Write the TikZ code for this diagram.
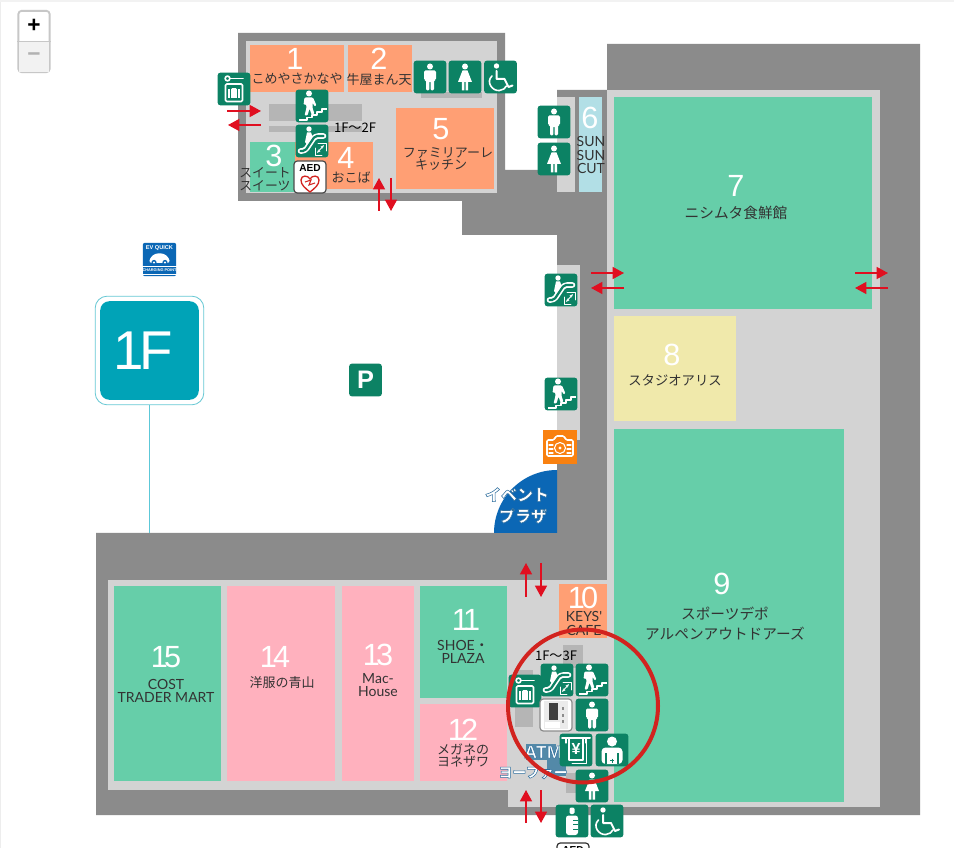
\documentclass[tikz,border=0pt]{standalone}
\usepackage{fontspec}
\usepackage{xcolor}
\usetikzlibrary{arrows.meta,shapes.geometric}
\newfontfamily\jpf{Noto Sans CJK JP}
\newfontfamily\numf{Lato}
\newfontfamily\sanf{Liberation Sans}
\newfontfamily\digf[LetterSpace=-12]{Liberation Sans}
\newfontfamily\onef[LetterSpace=-7]{Liberation Sans}
\definecolor{dkgrey}{HTML}{8B8B8B}
\definecolor{ltgrey}{HTML}{D3D3D3}
\definecolor{mdgrey}{HTML}{B5B5B5}
\definecolor{shopgreen}{HTML}{66CEA9}
\definecolor{shoporange}{HTML}{FF9F74}
\definecolor{shoppink}{HTML}{FFB1BE}
\definecolor{shopyellow}{HTML}{F0E9AB}
\definecolor{shopblue}{HTML}{B2DFE6}
\definecolor{icongreen}{HTML}{0C8264}
\definecolor{teal1f}{HTML}{00A3B7}
\definecolor{tealline}{HTML}{5CC8D8}
\definecolor{redarr}{HTML}{E00F20}
\definecolor{redring}{HTML}{D2231F}
\definecolor{plazablue}{HTML}{0B67B5}
\definecolor{atmblue}{HTML}{5389A8}
\definecolor{labelcol}{HTML}{333333}
\definecolor{camorange}{HTML}{F98110}
\AtBeginDocument{\lineskiplimit=-20pt\relax}
\newcommand\myoutl[1]{\special{pdf:code q 2 Tr 0.4 w 0.18 0.43 0.62 RG}#1\special{pdf:code Q}}
\tikzset{
  x=0.75pt,y=-0.75pt,
  shopnum/.style={font=\digf\fontsize{23}{23}\selectfont,text=white,inner sep=0pt},
  labjp/.style={font=\jpf\fontsize{9.75}{9}\selectfont,text=labelcol,inner sep=0pt,align=center},
  labjpl/.style={font=\jpf\fontsize{11}{15}\selectfont,text=labelcol,inner sep=0pt,align=center},
  lablat/.style={font=\numf\fontsize{10.5}{9.8}\selectfont,text=labelcol,inner sep=0pt,align=center},
  floorlab/.style={font=\jpf\fontsize{9.8}{10}\selectfont,text=black,inner sep=0pt},
  outlab/.style={font=\jpf\bfseries\fontsize{12}{15}\selectfont,text=white,inner sep=0pt,align=center},
  icon/.style={fill=icongreen,rounded corners=2.2pt,minimum size=24.6pt,inner sep=0pt},
  whiteicon/.style={fill=white,draw=#1,line width=0.9pt,rounded corners=2.5pt,minimum size=24pt,inner sep=0pt},
  redflow/.style={draw=redarr,line width=1.1pt,-{Triangle[length=8.5pt,width=9pt]}},
  wline/.style={draw=white,line width=1.2pt,line cap=round,line join=round,fill=none},
}
% figures, in pixels from the icon centre
\newcommand\figman{\fill[white] (0,-10.5) circle[radius=3];
 \fill[white,rounded corners=1pt] (-6,-6.5) -- (6,-6.5) -- (6,3) -- (4,3) -- (4,13.5) -- (0.6,13.5) -- (0.6,4) -- (-0.6,4) -- (-0.6,13.5) -- (-4,13.5) -- (-4,3) -- (-6,3) -- cycle;}
\newcommand\figwoman{\fill[white] (0,-10.5) circle[radius=3];
 \fill[white] (-2.5,-6.5) -- (2.5,-6.5) -- (7,5) -- (3.2,5) -- (3.2,13.5) -- (0.6,13.5) -- (0.6,5) -- (-0.6,5) -- (-0.6,13.5) -- (-3.2,13.5) -- (-3.2,5) -- (-7,5) -- cycle;}
\newcommand\figwheel{\fill[white] (-4,-11) circle[radius=2.7];
 \draw[wline,line width=1.5pt] (-4,-6) -- (-4,2) -- (4,2) -- (8,10) -- (12,8.5);
 \draw[wline] (-8.5,-1) .. controls (-15,5) and (-8,14.5) .. (-1,13.5) .. controls (2,13) and (5,11.5) .. (6,9);}
\newcommand\figstairs{\fill[white] (-3,-12.5) circle[radius=3];
 \fill[white,rounded corners=0.8pt] (-7.5,-8.5) -- (1,-8.5) -- (4.5,-0.5) -- (2.5,0.5) -- (0.5,-3.5) -- (0.5,2) -- (2.5,8) -- (-0.5,8.5) -- (-2.5,2.5) -- (-4.5,9.5) -- (-7.5,9.5) -- (-5.5,1.5) -- (-6,-2) -- (-8.5,-1) -- cycle;
 \draw[wline,line width=1pt,line cap=butt] (-13,14) -- (-5,14) -- (-5,11.5) -- (0,11.5) -- (0,9) -- (5,9) -- (5,6) -- (10,6) -- (10,3) -- (15,3);}
\newcommand\figesc{\fill[white] (-3,-12) circle[radius=2.7];
 \draw[draw=white,line width=4.2pt,line join=round,line cap=round,rounded corners=2.5pt] (-11.5,10) -- (-7,10) -- (3,-5) -- (11.5,-5);
 \draw[draw=icongreen,line width=1.7pt,line join=round,line cap=round,rounded corners=1.5pt] (-11.5,10) -- (-7,10) -- (3,-5) -- (11.5,-5);
 \fill[white] (-5,-8.5) -- (-1,-8.5) -- (0.5,-4) -- (-5,3.5) -- (-7,1) -- cycle;
 \draw[wline,line width=0.7pt] (3,7) -- (3,14) -- (10,14) (6,2) -- (14,2) -- (14,10);
 \draw[wline,line width=0.7pt,{Stealth[length=2.8pt]}-{Stealth[length=2.8pt]}] (5,12) -- (12,4);}
\newcommand\figlocker{\draw[wline] (-6.5,-10.5) circle[radius=2.4];
 \draw[wline,line width=1.4pt] (-4,-10.5) -- (9,-10.5);
 \draw[wline,rounded corners=1pt] (-8.5,-5) -- (8.5,-5) -- (8.5,12.5) -- (-8.5,12.5) -- cycle;
 \draw[wline,line width=0.6pt] (-2,-1) -- (2,-1);
 \fill[white] (-6,0) rectangle (6,9);
 \draw[draw=icongreen,line width=0.5pt] (-3.5,0) -- (-3.5,9) (3.5,0) -- (3.5,9);}
\newcommand\figbottle{\fill[white,rounded corners=1pt] (-2.5,-13.5) rectangle (2.5,-7);
 \fill[white,rounded corners=2pt] (-6,-5.5) rectangle (6,14);
 \draw[draw=icongreen,line width=0.7pt] (1,-1) -- (6,-1) (1,3.5) -- (6,3.5) (1,8) -- (6,8);}
\newcommand\figbaby{\fill[white] (0,-8.5) circle[radius=5];
 \fill[white,rounded corners=3pt] (-10.5,-2.5) -- (10.5,-2.5) -- (10.5,14) -- (-10.5,14) -- cycle;
 \draw[draw=icongreen,line width=0.8pt] (-6,3) -- (-6,14) (6,3) -- (6,14);
 \draw[draw=icongreen,line width=0.7pt] (0,8.5) -- (0,12.5) (-2,10.5) -- (2,10.5);}
\newcommand\figatm{\draw[wline,line width=1.5pt] (-14,-12) -- (14,-12);
 \draw[wline,line width=0.9pt] (-10,-12) -- (-10,-7);
 \draw[wline,line width=0.9pt] (10,-12) -- (10,-7);
 \draw[wline,line width=0.9pt] (-7,-11) -- (-7,10) -- (7,10) -- (7,-11);
 \draw[wline,line width=0.7pt] (-4,13) -- (10,13) -- (10,-7);
 \node[font=\sanf\bfseries\fontsize{12}{12}\selectfont,text=white,inner sep=0pt] (yen) at (0,-1) {¥};}
\begin{document}
\begin{tikzpicture}
\useasboundingbox (0,0) rectangle (954,848);
\begin{scope}
\clip (0,0) rectangle (954,848);
\fill[white] (0,0) rectangle (954,848);
\fill[black!7] (0,0) rectangle (1.2,848);
\fill[black!5] (0,0) rectangle (954,2);
% building
\fill[dkgrey] (238,33) -- (505,33) -- (505,170) -- (557,170) -- (557,90) -- (607,90) -- (607,44) -- (920,44) -- (920,815) -- (96,815) -- (96,533) -- (557,533) -- (557,235) -- (462,235) -- (462,201) -- (238,201) -- cycle;
\fill[ltgrey] (246,41) rectangle (497,193);
\fill[ltgrey] (607,90) rectangle (880,807);
\fill[ltgrey] (108,580) rectangle (607,790);
\fill[ltgrey] (508,790) rectangle (880,807);
\fill[ltgrey] (557,97) rectangle (575,192);
\fill[ltgrey] (557,265) rectangle (580,440);
% service cores
\fill[mdgrey] (269,104) rectangle (362,121);
\fill[mdgrey] (269,126) rectangle (362,132);
\fill[mdgrey] (421,92) rectangle (482,98);
\fill[mdgrey] (563,645) rectangle (583,668);
\fill[mdgrey] (515,670) rectangle (533,727);
\fill[mdgrey] (566,773) rectangle (576,793);
% shops
\fill[shoporange] (250,45) rectangle (344,92);
\fill[shoporange] (348,45) rectangle (412,92);
\fill[shopgreen] (250,142) rectangle (295,192);
\fill[shoporange] (295,142) rectangle (373,189);
\fill[shoporange] (396,108) rectangle (494,189);
\fill[shopblue] (579,97) rectangle (602,192);
\fill[shopgreen] (614,97) rectangle (872,309);
\fill[shopyellow] (614,316) rectangle (736,421);
\fill[shopgreen] (614,429) rectangle (844,802);
\fill[shoporange] (559,584) rectangle (607,638);
\fill[shopgreen] (420,586) rectangle (507,698);
\fill[shoppink] (420,704) rectangle (507,781);
\fill[shoppink] (342,586) rectangle (414,781);
\fill[shoppink] (227,586) rectangle (335,781);
\fill[shopgreen] (114,586) rectangle (221,781);
% event plaza
\fill[plazablue] (557,533) -- (494,533) arc[start angle=180,end angle=270,radius=63] -- cycle;
\node[outlab] (plaza) at (517,505.5) {\myoutl{イベント}\\[1pt]\hspace*{9pt}\myoutl{プラザ}};
% atm patch
\fill[atmblue] (526,744) rectangle (556,760);
\fill[atmblue] (547,750) rectangle (566,776);
% shop texts
\node[shopnum] (n1) at (295,59) {1};
\node[labjp] (t1) at (297,79) {こめやさかなや};
\node[shopnum] (n2) at (379,59) {2};
\node[labjp] (t2) at (379,80) {牛屋まん天};
\node[shopnum] (n3) at (274,156) {3};
\node[labjp,align=left,font=\jpf\fontsize{9.6}{10}\selectfont] (t3) at (265,179) {スイート\\スイーツ};
\node[shopnum] (n4) at (346,158) {4};
\node[labjp] (t4) at (351,177) {おこば};
\node[shopnum] (n5) at (441,129) {5};
\node[labjp] (t5) at (448,159) {ファミリアーレ\\キッチン\hspace*{10.5pt}};
\node[shopnum] (n6) at (590,118) {6};
\node[lablat] (t6) at (591,155) {SUN\\SUN\\CUT};
\node[shopnum] (n7) at (736,186) {7};
\node[labjpl] (t7) at (736,213) {ニシムタ食鮮館};
\node[shopnum] (n8) at (672,355) {8};
\node[labjp,font=\jpf\fontsize{10}{10}\selectfont] (t8) at (675,380) {スタジオアリス};
\node[shopnum] (n9) at (722,584) {9};
\node[labjpl] (t9) at (725,624) {スポーツデポ\\アルペンアウトドアーズ};
\node[shopnum] (n10) at (583,598) {10};
\node[lablat] (t10) at (584,623.5) {KEYS'\\CAFE};
\node[shopnum] (n11) at (466,620) {11};
\node[lablat] (t11) at (463,651.5) {SHOE{\jpf ・}\\PLAZA};
\node[shopnum] (n12) at (463,730) {12};
\node[labjp] (t12) at (463,755.5) {メガネの\\ヨネザワ};
\node[shopnum] (n13) at (378,655) {13};
\node[lablat] (t13) at (378,685.5) {Mac-\\House};
\node[shopnum] (n14) at (275,657) {14};
\node[labjp] (t14) at (282,683) {洋服の青山};
\node[shopnum] (n15) at (166,657) {15};
\node[lablat] (t15) at (166,690.5) {COST\\TRADER MART};
\node[floorlab] (f2) at (355,128) {1F〜2F};
\node[floorlab] (f3) at (556,656) {1F〜3F};
% 1F marker
\node[draw=teal1f!60,fill=white,line width=0.6pt,rounded corners=9pt,minimum size=81.5pt,inner sep=0pt] (markerout) at (149.5,350.5) {};
\node[fill=teal1f,rounded corners=7pt,minimum size=74pt,inner sep=0pt] (marker) at (149.5,350.5) {};
\node[text=white,font=\onef\fontsize{41}{41}\selectfont,inner sep=0pt] (markertext) at (143,351) {1F};
\coordinate (markerfoot) at (149.5,533);
\draw[tealline,line width=0.7pt] (markerout.south) -- (markerfoot);
% EV
\node[fill=plazablue,rounded corners=1.5pt,minimum size=25pt,inner sep=0pt] (ev) at (159.5,259.5) {};
\node[font=\sanf\bfseries\fontsize{4.2}{4.2}\selectfont,text=white,inner sep=0pt] (evtop) at (159.5,248.5) {EV QUICK};
\fill[white,rounded corners=2pt] (149,263) -- (150,258) -- (155,253.5) -- (164,253.5) -- (169,258) -- (170,263) -- cycle;
\fill[plazablue] (154,262.5) circle[radius=2.6];
\fill[plazablue] (165,262.5) circle[radius=2.6];
\fill[white] (154,262.5) circle[radius=1.2];
\fill[white] (165,262.5) circle[radius=1.2];
\node[draw=white,line width=0.4pt,font=\sanf\bfseries\fontsize{2.9}{3}\selectfont,text=white,inner sep=0.5pt,minimum width=22.5pt,minimum height=6.2pt] (evbot) at (159.5,270.5) {CHARGING POINT};
% P
\node[icon,text=white,font=\sanf\bfseries\fontsize{19}{19}\selectfont] (park) at (365.5,380) {P};
% icons
\node[icon] (lockA) at (234,89) {};
\begin{scope}[shift={(234,89)}]\figlocker\end{scope}
\node[icon] (stairA) at (312,106) {};
\begin{scope}[shift={(312,106)}]\figstairs\end{scope}
\node[icon] (escA) at (312,141) {};
\begin{scope}[shift={(312,141)}]\figesc\end{scope}
\node[whiteicon=black!70] (aedA) at (310,177) {};
\node[font=\sanf\bfseries\fontsize{7.6}{8}\selectfont,inner sep=0pt] (aedAt) at (310,168) {AED};
\begin{scope}[shift={(310,183)}]
\draw[draw=redring,line width=1pt] (0,9) .. controls (-5,5) and (-9,2) .. (-9,-3) .. controls (-9,-8) and (-2,-8) .. (0,-4) .. controls (2,-8) and (9,-8) .. (9,-3) .. controls (9,2) and (5,5) .. (0,9) -- cycle;
\draw[draw=redring,line width=0.8pt] (-5,-1) -- (1,-3) -- (-1,2) -- (5,0);
\end{scope}
\node[icon] (manA) at (430,77) {};
\begin{scope}[shift={(430,77)}]\figman\end{scope}
\node[icon] (womA) at (465,77) {};
\begin{scope}[shift={(465,77)}]\figwoman\end{scope}
\node[icon] (whA) at (500.5,77) {};
\begin{scope}[shift={(500.5,77)}]\figwheel\end{scope}
\node[icon] (manB) at (554,122) {};
\begin{scope}[shift={(554,122)}]\figman\end{scope}
\node[icon] (womB) at (554,159) {};
\begin{scope}[shift={(554,159)}]\figwoman\end{scope}
\node[icon] (escB) at (561,290) {};
\begin{scope}[shift={(561,290)}]\figesc\end{scope}
\node[icon] (stairB) at (561,394) {};
\begin{scope}[shift={(561,394)}]\figstairs\end{scope}
\node[fill=camorange,minimum size=25pt,inner sep=0pt] (cam) at (560,447) {};
\begin{scope}[shift={(560,447)}]
\draw[wline,rounded corners=1pt] (-13,-7) -- (-6,-7) -- (-4,-11) -- (4,-11) -- (6,-7) -- (13,-7) -- (13,9) -- (-13,9) -- cycle;
\draw[wline,line width=0.8pt] (0,1) circle[radius=5.5];
\fill[white] (0,1) circle[radius=1.6];
\draw[wline,line width=0.8pt] (-11,-2) -- (-7,-2) (-11,2) -- (-7,2) (-11,6) -- (-7,6) (7,-2) -- (11,-2) (7,2) -- (11,2) (7,6) -- (11,6);
\end{scope}
% bottom core
\node[outlab,font=\sanf\bfseries\fontsize{13.5}{14}\selectfont] (atmt) at (543,752) {\myoutl{ATM}};
\node[outlab,font=\jpf\bfseries\fontsize{10.5}{14}\selectfont] (ykt) at (533,773) {\myoutl{ヨーファー}};
\node[icon] (lockC) at (525,691) {};
\begin{scope}[shift={(525,691)}]\figlocker\end{scope}
\node[icon] (escC) at (557,680) {};
\begin{scope}[shift={(557,680)}]\figesc\end{scope}
\node[icon] (stairC) at (592,680) {};
\begin{scope}[shift={(592,680)}]\figstairs\end{scope}
\node[whiteicon=black!45] (vend) at (556,715) {};
\begin{scope}[shift={(556,715)}]
\fill[black!8] (-12,-14) rectangle (12,14);
\fill[black!75] (-7,-12) rectangle (2,5);
\fill[black!45] (6,-8) rectangle (8,-5);
\fill[black!45] (6,-1) rectangle (8,2);
\fill[black!45] (6,5) rectangle (8,8);
\fill[white] (-11,7) rectangle (4,13);
\end{scope}
\node[icon] (manC) at (592,715) {};
\begin{scope}[shift={(592,715)}]\figman\end{scope}
\node[icon] (atmi) at (576,750) {};
\begin{scope}[shift={(576,750)}]\figatm\end{scope}
\node[icon] (babyC) at (612,750) {};
\begin{scope}[shift={(612,750)}]\figbaby\end{scope}
\node[icon] (womC) at (592,786) {};
\begin{scope}[shift={(592,786)}]\figwoman\end{scope}
\node[icon] (botC) at (572,821) {};
\begin{scope}[shift={(572,821)}]\figbottle\end{scope}
\node[icon] (whC) at (607,821) {};
\begin{scope}[shift={(607,821)}]\figwheel\end{scope}
\node[whiteicon=black!80] (aedC) at (573,859) {};
\node[font=\sanf\bfseries\fontsize{7.6}{8}\selectfont,inner sep=0pt] (aedCt) at (573,850) {AED};
% red flow arrows
\coordinate (a1s) at (227,111); \coordinate (a1e) at (261,111);
\coordinate (a2s) at (261,125); \coordinate (a2e) at (228,125);
\coordinate (a3s) at (379,211); \coordinate (a3e) at (379,178);
\coordinate (a4s) at (391,178); \coordinate (a4e) at (391,211);
\coordinate (a5s) at (591,273); \coordinate (a5e) at (624,273);
\coordinate (a6s) at (624,288); \coordinate (a6e) at (591,288);
\coordinate (a7s) at (855,273); \coordinate (a7e) at (888,273);
\coordinate (a8s) at (888,288); \coordinate (a8e) at (855,288);
\coordinate (a9s) at (526,597); \coordinate (a9e) at (526,563);
\coordinate (a10s) at (541,563); \coordinate (a10e) at (541,597);
\coordinate (a11s) at (526,823); \coordinate (a11e) at (526,790);
\coordinate (a12s) at (541,790); \coordinate (a12e) at (541,823);
\foreach \k in {1,...,12}{\draw[redflow] (a\k s) -- (a\k e);}
% ring
\draw[draw=redring,line width=3pt] (583,706) ellipse[x radius=75,y radius=76.5];
% zoom control
\node[draw=black!22,fill=white,line width=1.4pt,rounded corners=2.5pt,minimum width=23.5pt,minimum height=46pt,inner sep=0pt] (zoombox) at (34,41.5) {};
\fill[black!5] (19,42) rectangle (49,72);
\draw[black!22,line width=1.4pt] (zoombox.west |- 0,41.5) -- (zoombox.east |- 0,41.5);
\node[font=\sanf\bfseries\fontsize{17}{17}\selectfont,inner sep=0pt] (zin) at (34,26) {+};
\node[font=\sanf\bfseries\fontsize{17}{17}\selectfont,text=black!30,inner sep=0pt] (zout) at (34,57) {−};
\end{scope}
\end{tikzpicture}
\end{document}
